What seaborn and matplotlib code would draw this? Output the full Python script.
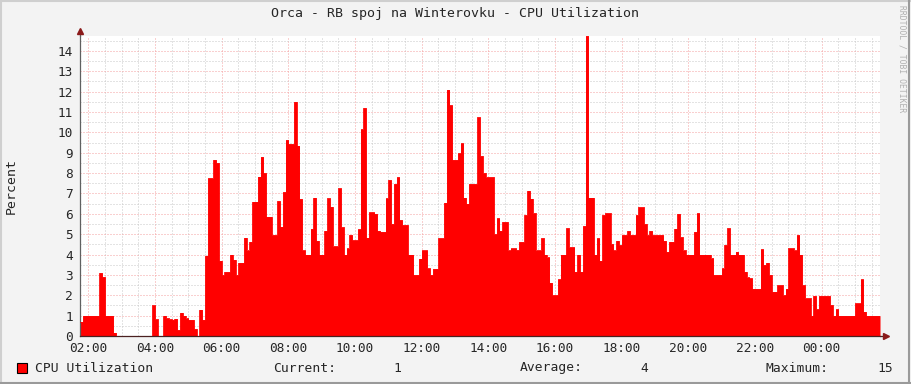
import matplotlib
matplotlib.use("Agg")
import matplotlib.pyplot as plt
import matplotlib.dates as mdates
from matplotlib.patches import Rectangle
from matplotlib.lines import Line2D
import seaborn as sns
import numpy as np
import pandas as pd

# ---------------- data ----------------
title = "Orca - RB spoj na Winterovku - CPU Utilization"
ylabel = "Percent"
series_name = "CPU Utilization"
start_time = "2024-01-01 01:45"
step = "5min"
cpu = [
    0.7, 1, 1, 1, 1, 1, 1, 3.1, 2.9, 1, 1, 1,
    0.17, 0, 0, 0, 0, 0, 0, 0, 0, 0, 0, 0,
    0, 0, 1.5, 0.82, 0, 0, 1.0, 0.87, 0.82, 0.8, 0.85, 0.3,
    1.15, 1.0, 0.87, 0.8, 0.8, 0.35, 0, 1.3, 0.8, 3.95, 7.75, 7.75,
    8.65, 8.5, 3.7, 3.0, 3.15, 3.15, 4.0, 3.75, 3.0, 3.6, 3.6, 4.83,
    4.2, 4.63, 6.6, 6.6, 7.83, 8.8, 8.0, 5.86, 5.86, 4.96, 4.96, 6.63,
    5.37, 7.07, 9.63, 9.43, 9.43, 11.5, 9.35, 6.73, 4.2, 4.0, 4.0, 5.26,
    6.8, 4.68, 4.0, 4.0, 5.17, 6.76, 6.35, 4.4, 4.4, 7.25, 5.34, 4.0,
    4.3, 4.96, 4.7, 4.7, 5.24, 10.15, 11.2, 4.83, 6.07, 6.07, 6.0, 5.17,
    5.12, 5.12, 6.76, 7.66, 5.5, 7.47, 7.8, 5.7, 5.45, 5.45, 4.0, 4.0,
    3.0, 3.0, 3.8, 4.2, 4.2, 3.32, 3.0, 3.3, 3.3, 4.8, 4.8, 6.55,
    12.1, 11.33, 8.65, 8.65, 8.97, 9.46, 6.8, 6.5, 7.47, 7.47, 7.47, 10.74,
    8.84, 8.0, 7.8, 7.8, 7.8, 5.0, 5.78, 5.17, 5.6, 5.6, 4.2, 4.3,
    4.3, 4.22, 4.62, 4.62, 5.94, 7.14, 6.75, 6.03, 4.2, 4.2, 4.8, 4.0,
    3.86, 2.62, 2.0, 2.0, 2.78, 4.0, 4.0, 5.29, 4.36, 4.36, 3.16, 4.0,
    3.16, 5.4, 14.74, 6.8, 6.8, 4.0, 4.8, 3.7, 5.94, 6.03, 6.03, 4.52,
    4.2, 4.68, 4.47, 4.96, 4.96, 5.16, 4.96, 4.96, 5.94, 6.32, 6.32, 5.5,
    4.96, 5.16, 4.96, 4.96, 4.96, 4.96, 4.68, 4.14, 4.63, 4.63, 5.27, 6.0,
    4.85, 4.2, 4.0, 4.0, 4.0, 5.12, 6.03, 4.0, 4.0, 4.0, 4.0, 3.82,
    3.0, 3.0, 3.0, 3.32, 4.47, 5.29, 4.0, 4.0, 4.14, 4.0, 4.0, 3.16,
    2.88, 2.83, 2.32, 2.32, 2.32, 4.26, 3.49, 3.6, 3.0, 2.18, 2.18, 2.49,
    2.49, 2.0, 2.32, 4.3, 4.3, 4.2, 4.96, 4.0, 2.49, 1.85, 1.85, 1.0,
    1.97, 1.31, 1.97, 1.97, 1.97, 1.97, 1.52, 1.0, 1.31, 1.0, 1.0, 1.0,
    1.0, 1.0, 1.0, 1.6, 1.6, 2.78, 1.2, 1.0, 1.0, 1.0, 1.0, 1.0,
]
yticks = list(range(0, 15))
legend_labels = ["Current:", "Average:", "Maximum:"]
legend_values = ["1", "4", "15"]
watermark = "RRDTOOL / TOBI OETIKER"

# ---------------- style ----------------
sns.set_style("white")
plt.rcParams["font.family"] = ["DejaVu Sans Mono", "DejaVu Sans"]
BG = "#F3F3F3"
RED = "#FF0000"

W, H = 911, 384
fig = plt.figure(figsize=(W / 100, H / 100), dpi=100, facecolor=BG)
ax = fig.add_axes([80 / W, 48 / H, 800 / W, 300 / H])
ax.set_facecolor("white")

times = pd.date_range(start_time, periods=len(cpu), freq=step)
end_time = times[-1] + pd.Timedelta(step)
df = pd.DataFrame({"time": list(times) + [end_time], "cpu": cpu + [cpu[-1]]})

ax.fill_between(df["time"], df["cpu"], step="post", color=RED, linewidth=0, zorder=2)
sns.lineplot(data=df, x="time", y="cpu", drawstyle="steps-post", color=RED,
             linewidth=0.6, ax=ax, zorder=3)

ax.set_xlim(times[0], end_time)
ax.set_ylim(0, 14.73)

# grid
ax.xaxis.set_major_locator(mdates.HourLocator(byhour=range(0, 24, 2)))
ax.xaxis.set_minor_locator(mdates.MinuteLocator(byminute=[0, 30]))
ax.xaxis.set_major_formatter(mdates.DateFormatter("%H:%M"))
ax.set_yticks(yticks)
ax.set_yticks(np.arange(0.5, 15, 1.0), minor=True)
ax.set_axisbelow(True)
ax.grid(which="minor", color="#C8C8C8", linestyle=(0, (1, 2)), linewidth=0.72, zorder=0)
ax.grid(which="major", color="#F4A0A0", linestyle=(0, (1, 2)), linewidth=0.72, zorder=1)

ax.set_xlabel("")
ax.set_ylabel("")
ax.tick_params(axis="both", which="both", length=0)
ax.tick_params(axis="x", which="major", labelsize=9.2, pad=4.5)
ax.tick_params(axis="y", which="major", labelsize=9.2, pad=5)

for s in ["top", "right"]:
    ax.spines[s].set_visible(False)
ax.spines["left"].set_color("#606060")
ax.spines["left"].set_linewidth(0.9)
ax.spines["bottom"].set_color("#4A2020")
ax.spines["bottom"].set_linewidth(0.9)

# axis arrows
ax.plot([0, 0], [1.0, 1.01], transform=ax.transAxes, color="#606060", lw=0.9, clip_on=False)
ax.plot([0], [1.016], marker="^", markersize=4, color="#8B1A1A", transform=ax.transAxes,
        clip_on=False, zorder=5)
ax.plot([1.0, 1.005], [0, 0], transform=ax.transAxes, color="#4A2020", lw=0.9, clip_on=False)
ax.plot([1.008], [0], marker=">", markersize=4, color="#8B1A1A", transform=ax.transAxes,
        clip_on=False, zorder=5)

# texts
fig.text(455 / W, 1 - 14 / H, title, ha="center", va="center", fontsize=9.5)
fig.text(11 / W, 1 - 186 / H, ylabel, rotation=90, ha="center", va="center", fontsize=9.5)
fig.text(902 / W, 1 - 5 / H, watermark, rotation=270, ha="center", va="top",
         fontsize=5.8, color="#B0B0B0")

ly = 1 - 368 / H
fig.patches.append(Rectangle((17 / W, (H - 373) / H), 10 / W, 10 / H, facecolor=RED,
                             edgecolor="black", linewidth=0.8, transform=fig.transFigure))
fig.text(35 / W, ly, series_name, ha="left", va="center", fontsize=9.4)
fig.text(273 / W, ly, legend_labels[0], ha="left", va="center", fontsize=9.4)
fig.text(393 / W, ly, legend_values[0], ha="left", va="center", fontsize=9.4)
fig.text(520 / W, ly, legend_labels[1], ha="left", va="center", fontsize=9.4)
fig.text(640 / W, ly, legend_values[1], ha="left", va="center", fontsize=9.4)
fig.text(765 / W, ly, legend_labels[2], ha="left", va="center", fontsize=9.4)
fig.text(893 / W, ly, legend_values[2], ha="right", va="center", fontsize=9.4)

# outer frame
fig.lines.append(Line2D([0, 1], [0.998, 0.998], transform=fig.transFigure, color="#CFCFCF", lw=1.5))
fig.lines.append(Line2D([0.001, 0.001], [0, 1], transform=fig.transFigure, color="#CFCFCF", lw=1.5))
fig.lines.append(Line2D([0, 1], [0.002, 0.002], transform=fig.transFigure, color="#9A9A9A", lw=1.5))
fig.lines.append(Line2D([0.998, 0.998], [0, 1], transform=fig.transFigure, color="#9A9A9A", lw=1.5))

fig.savefig("out.png", dpi=100, facecolor=BG)
